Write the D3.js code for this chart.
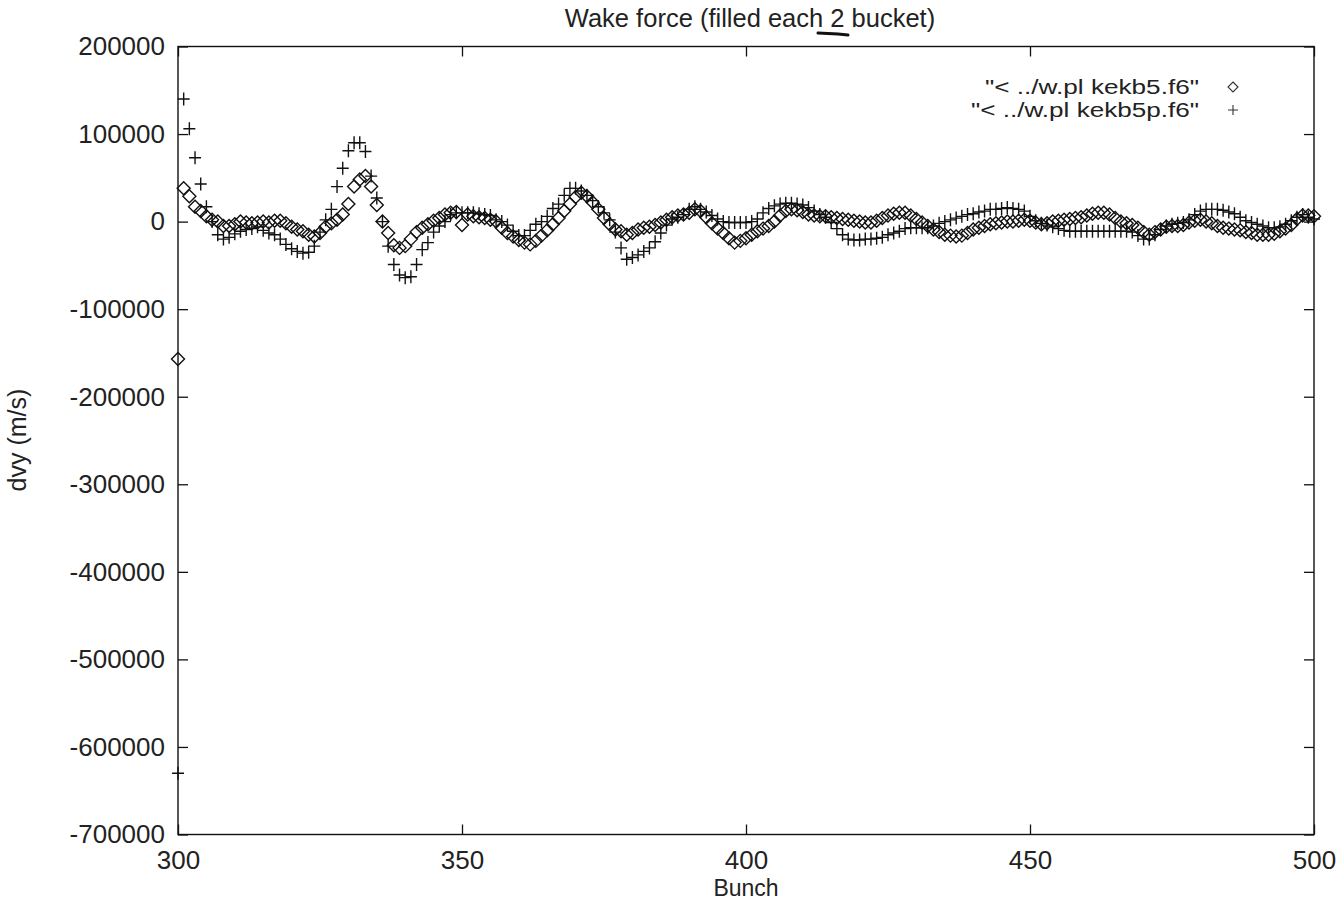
<!DOCTYPE html>
<html>
<head>
<meta charset="utf-8">
<script src="https://cdn.jsdelivr.net/npm/d3@7"></script>
<style>
  body { margin: 0; background: #fff; }
  text { font-family: "Liberation Sans", Arial, sans-serif; fill: #222; }
</style>
</head>
<body>
<div id="canvas"></div>
<script>
"use strict"

/* values, in units of 1000 m/s, one per bunch 300..500 */
let bunchStart = 300;

let kekb5 = [
  -157, 38, 29, 17, 12, 6, 2, 0, -5, -5,
  -3, 0, -1, -2, -1, 0, -1, 1, 1, -2,
  -6, -9, -11, -15, -17, -13, -6, -2, 2, 8,
  20, 40, 48, 52, 40, 19, 0, -13, -27, -30,
  -28, -20, -12, -7, -3, 1, 4, 8, 10, 11,
  -4, 8, 6, 5, 4, 2, 0, -7, -13, -17,
  -21, -24, -26, -22, -16, -10, -3, 4, 12, 20,
  28, 33, 29, 22, 14, 4, -3, -9, -11, -15,
  -13, -9, -7, -6, -4, -1, 2, 5, 7, 8,
  10, 14, 12, 5, -2, -8, -13, -19, -24, -22,
  -19, -15, -11, -8, -5, 0, 7, 12, 14, 13,
  11, 8, 7, 6, 6, 5, 4, 3, 2, 1,
  0, -1, -1, 1, 4, 7, 9, 10, 10, 7,
  3, -1, -5, -9, -12, -15, -16, -17, -16, -13,
  -9, -7, -5, -3, -2, -1, 0, 0, 1, 2,
  1, -1, -3, -2, 0, 1, 2, 3, 4, 5,
  7, 9, 10, 10, 8, 4, 0, -2, -4, -7,
  -12, -15, -12, -9, -6, -5, -5, -4, -1, 1,
  2, 0, -2, -5, -7, -8, -9, -10, -12, -13,
  -15, -15, -15, -14, -11, -8, -4, 3, 7, 7,
  6
];

let kekb5p = [
  -630, 140, 106, 73, 43, 17, 0, -15, -20, -18,
  -14, -11, -9, -8, -6, -10, -13, -15, -20, -26,
  -31, -34, -36, -35, -28, -12, 2, 14, 40, 61,
  81, 90, 90, 80, 52, 27, 0, -28, -49, -61,
  -64, -63, -49, -32, -24, -12, -5, 0, 8, 10,
  10, 10, 10, 9, 8, 7, 2, 0, -4, -11,
  -16, -16, -10, -3, 0, 6, 15, 20, 30, 38,
  38, 35, 30, 24, 17, 10, 2, -12, -30, -43,
  -41, -38, -34, -30, -23, -13, -4, 3, 5, 8,
  14, 17, 14, 11, 7, 3, 0, -1, -1, -1,
  -1, 0, 3, 10, 15, 18, 20, 21, 21, 20,
  19, 16, 12, 8, 5, -1, -8, -15, -20, -21,
  -21, -20, -20, -19, -18, -15, -13, -11, -8, -7,
  -7, -7, -7, -5, -2, 0, 2, 4, 6, 8,
  9, 11, 12, 14, 14, 15, 16, 15, 14, 12,
  6, 1, -2, -4, -6, -8, -10, -11, -11, -11,
  -11, -11, -11, -11, -11, -11, -11, -11, -12, -16,
  -20, -20, -15, -9, -5, -3, -2, -1, 2, 8,
  12, 14, 14, 14, 13, 11, 9, 5, 1, -1,
  -3, -5, -7, -7, -6, -3, 1, 5, 8, 5,
  3
];

let xTicks = [300, 350, 400, 450, 500];
let yTicks = [200000, 100000, 0, -100000, -200000, -300000, -400000, -500000, -600000, -700000];
let legendNames = ['"< ../w.pl kekb5.f6"', '"< ../w.pl kekb5p.f6"'];

let W = 1342, H = 919;
let plotLeft = 178, plotRight = 1314, plotTop = 46.5, plotBottom = 834.5;

let svg = d3.select("#canvas")
    .append("svg")
    .attr("width", W)
    .attr("height", H);

let x = d3.scaleLinear().domain([300, 500]).range([plotLeft, plotRight]);
let y = d3.scaleLinear().domain([-700000, 200000]).range([plotBottom, plotTop]);

// frame
svg.append("rect")
    .attr("x", plotLeft).attr("y", plotTop)
    .attr("width", plotRight - plotLeft).attr("height", plotBottom - plotTop)
    .attr("fill", "none").attr("stroke", "#111").attr("stroke-width", 1.4);

// axes with inward ticks, mirrored like gnuplot does
// plain hyphen for negatives, as the original shows
let plainNum = d => String(d);
let tick = 10;
let bottomAxis = d3.axisBottom(x).tickValues(xTicks).tickSize(-tick).tickPadding(16).tickFormat(plainNum);
let topAxis = d3.axisTop(x).tickValues(xTicks).tickSize(-tick).tickFormat("");
let leftAxis = d3.axisLeft(y).tickValues(yTicks).tickSize(-tick).tickPadding(13).tickFormat(plainNum);
let rightAxis = d3.axisRight(y).tickValues(yTicks).tickSize(-tick).tickFormat("");

function styleAxis(g) {
    g.select(".domain").remove();
    g.selectAll(".tick line").attr("stroke", "#111").attr("stroke-width", 1.3);
    g.selectAll(".tick text").attr("font-size", 26).attr("fill", "#222")
        .style("font-family", '"Liberation Sans", Arial, sans-serif');
}

svg.append("g").attr("transform", `translate(0,${plotBottom})`).call(bottomAxis).call(styleAxis);
svg.append("g").attr("transform", `translate(0,${plotTop})`).call(topAxis).call(styleAxis);
svg.append("g").attr("transform", `translate(${plotLeft},0)`).call(leftAxis).call(styleAxis);
svg.append("g").attr("transform", `translate(${plotRight},0)`).call(rightAxis).call(styleAxis);

// marker shapes
let diamond = "M0,-6.5L6.5,0L0,6.5L-6.5,0Z";
let plus = "M-6,0H6M0,-6.5V6.5";

let plot = svg.append("g");

plot.selectAll("path.dia")
    .data(kekb5)
    .join("path")
    .attr("class", "dia")
    .attr("d", diamond)
    .attr("transform", (d, i) => `translate(${x(bunchStart + i)},${y(d * 1000)})`)
    .attr("fill", "none").attr("stroke", "#111").attr("stroke-width", 1.4);

plot.selectAll("path.plus")
    .data(kekb5p)
    .join("path")
    .attr("class", "plus")
    .attr("d", plus)
    .attr("transform", (d, i) => `translate(${x(bunchStart + i)},${y(d * 1000)})`)
    .attr("fill", "none").attr("stroke", "#111").attr("stroke-width", 1.4);

// legend (the scan is a bit wide, so the text gets stretched to its width)
let legendWidths = [214, 228];
let legend = svg.append("g");
legendNames.forEach((name, i) => {
    let ly = 94 + i * 23;
    legend.append("text")
        .attr("x", 1199 - legendWidths[i]).attr("y", ly)
        .attr("font-size", 20)
        .attr("textLength", legendWidths[i])
        .attr("lengthAdjust", "spacingAndGlyphs")
        .text(name);
    legend.append("path")
        .attr("d", i === 0 ? "M0,-5L5,0L0,5L-5,0Z" : "M-5,0H5M0,-5V5")
        .attr("transform", `translate(1233,${ly - 7})`)
        .attr("fill", "none").attr("stroke", "#333").attr("stroke-width", 1.1);
});

// title, with the hand drawn underline under the 2
svg.append("text")
    .attr("x", 750).attr("y", 27)
    .attr("text-anchor", "middle")
    .attr("font-size", 25.5)
    .text("Wake force (filled each 2 bucket)");

svg.append("path")
    .attr("d", "M818,33 L838,34 L848,35")
    .attr("fill", "none").attr("stroke", "#111").attr("stroke-width", 3).attr("stroke-linecap", "round");

// axis titles
svg.append("text")
    .attr("x", 746).attr("y", 896)
    .attr("text-anchor", "middle")
    .attr("font-size", 23)
    .text("Bunch");

svg.append("text")
    .attr("transform", "translate(26,440) rotate(-90)")
    .attr("text-anchor", "middle")
    .attr("font-size", 25)
    .text("dvy (m/s)");
</script>
</body>
</html>
